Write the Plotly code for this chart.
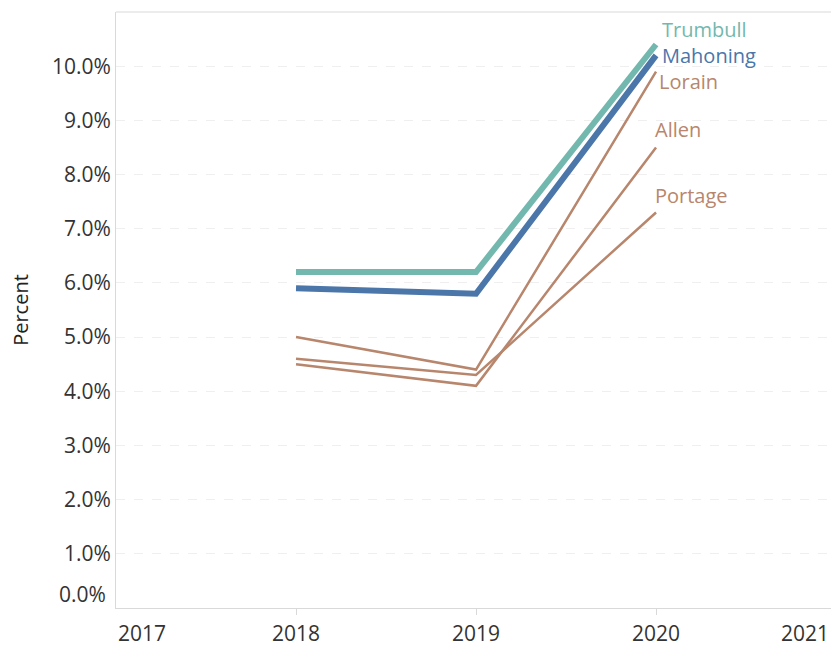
import plotly.graph_objects as go

years = [2018, 2019, 2020]
counties = ["Lorain", "Allen", "Portage", "Mahoning", "Trumbull"]
lorain = [5.0, 4.4, 9.9]
allen = [4.5, 4.1, 8.5]
portage = [4.6, 4.3, 7.3]
mahoning = [5.9, 5.8, 10.2]
trumbull = [6.2, 6.2, 10.4]
y_ticks = [1, 2, 3, 4, 5, 6, 7, 8, 9, 10]
y_labels = ["%.1f%%" % v for v in y_ticks]
x_ticks = [2018, 2019, 2020]
x_labels = [str(v) for v in x_ticks]

BROWN = "#B8866C"
BLUE = "#4A76AA"
TEAL = "#73B8AE"
TXT = "#333333"
FONT = "Open Sans"

series = [
    ("Lorain", lorain, BROWN, 2.5, 1, -10),
    ("Allen", allen, BROWN, 2.5, -3, 18),
    ("Portage", portage, BROWN, 2.5, -3, 17),
    ("Mahoning", mahoning, BLUE, 6, 4, 0),
    ("Trumbull", trumbull, TEAL, 6, 4, 15),
]

fig = go.Figure()
annotations = []
for name, vals, color, width, xs, ys in series:
    fig.add_trace(go.Scatter(x=years, y=vals, mode="lines", name=name,
                             line=dict(color=color, width=width), showlegend=False))
    annotations.append(dict(x=years[-1], y=vals[-1], xref="x", yref="y", text=name,
                            showarrow=False, xanchor="left", yanchor="middle",
                            xshift=xs, yshift=ys,
                            font=dict(family=FONT, size=20, color=color)))

# edge tick labels (shifted inward like the original)
annotations.append(dict(x=2017, y=0, xref="x", yref="paper", text="2017", showarrow=False,
                        xanchor="left", yanchor="middle", yshift=-25,
                        font=dict(family=FONT, size=21, color=TXT)))
annotations.append(dict(x=1, y=0, xref="paper", yref="paper", text="2021", showarrow=False,
                        xanchor="right", yanchor="middle", yshift=-25,
                        font=dict(family=FONT, size=21, color=TXT)))
annotations.append(dict(x=0, y=0, xref="paper", yref="y", text="0.0%", showarrow=False,
                        xanchor="right", yanchor="middle", xshift=-8, yshift=14,
                        font=dict(family=FONT, size=21, color=TXT)))

fig.update_layout(
    width=831, height=646,
    margin=dict(l=116, r=0, t=12, b=38),
    paper_bgcolor="white", plot_bgcolor="white",
    font=dict(family=FONT, size=20, color=TXT),
    annotations=annotations,
    xaxis=dict(range=[2017, 2020.972], tickvals=x_ticks, ticktext=x_labels,
               showgrid=False, showline=True, linecolor="#d9d9d9", linewidth=1,
               ticks="outside", ticklen=6, tickcolor="#d9d9d9", zeroline=False,
               ticklabelstandoff=1, automargin=False,
               tickfont=dict(family=FONT, size=21, color=TXT)),
    yaxis=dict(range=[0, 11], tickvals=y_ticks, ticktext=y_labels,
               showgrid=True, gridcolor="#efefef", griddash="dash", gridwidth=1,
               showline=True, linecolor="#d9d9d9", linewidth=1, zeroline=False,
               ticks="", automargin=False,
               tickfont=dict(family=FONT, size=21, color=TXT),
               title=dict(text="Percent", font=dict(family=FONT, size=20, color="#222"),
                          standoff=17)),
    shapes=[dict(type="line", xref="paper", yref="paper", x0=0, x1=1, y0=1, y1=1,
                 line=dict(color="#d9d9d9", width=1))],
)

fig.write_html("out.html", config={"displayModeBar": False},
               post_script="document.body.style.margin='0';document.body.style.overflow='hidden';")
